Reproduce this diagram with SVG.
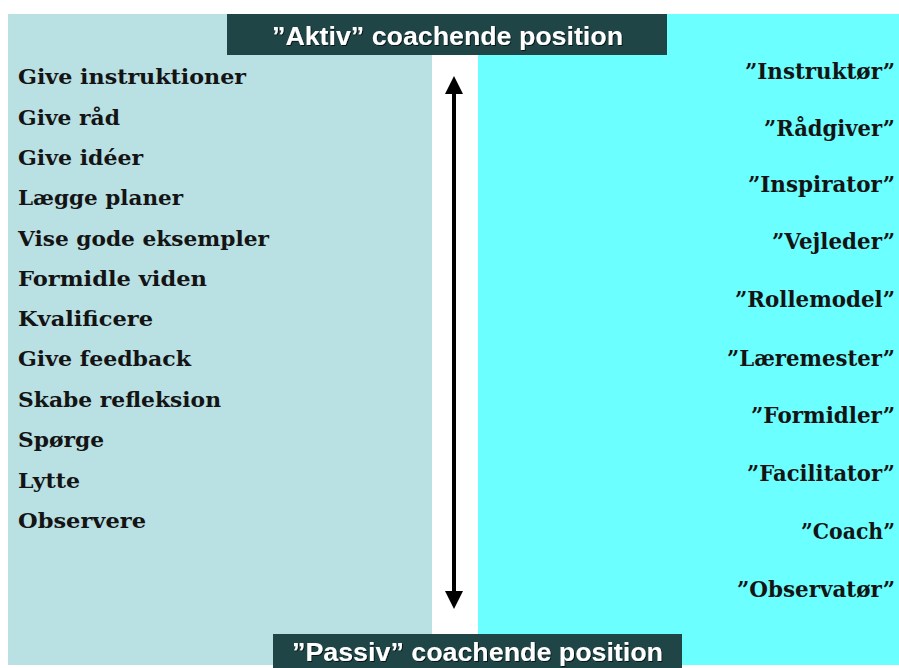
<svg xmlns="http://www.w3.org/2000/svg" width="899" height="668" viewBox="0 0 899 668">
  <defs>
    <style>
      .bg { fill: #ffffff; }
      .panel-left { fill: #b9e0e3; }
      .panel-right { fill: #6cffff; }
      .head { fill: #1f4547; }
      .head-text { font-family: "Liberation Sans", Arial, sans-serif; font-weight: bold; fill: #ffffff; text-anchor: middle; }
      .act { font-family: "DejaVu Serif", Georgia, serif; font-weight: bold; font-size: 21px; fill: #141414; }
      .role { font-family: "DejaVu Serif", Georgia, serif; font-weight: bold; font-size: 21.5px; fill: #141414; text-anchor: end; }
      .axis { stroke: #000000; stroke-width: 4; fill: none; }
    </style>
    <marker id="head" viewBox="0 0 10 10" refX="6.7" refY="5" markerWidth="4.5" markerHeight="4.5" markerUnits="strokeWidth" orient="auto-start-reverse">
      <path d="M0,0 L10,5 L0,10 Z" fill="#000000"/>
    </marker>
    <filter id="shadow" x="-5%" y="-20%" width="110%" height="140%">
      <feDropShadow dx="1" dy="1" stdDeviation="0.6" flood-color="#000000" flood-opacity="0.7"/>
    </filter>
  </defs>

  <rect class="bg" x="0" y="0" width="899" height="668"/>

  <!-- background panels -->
  <g id="panel-activities">
    <rect class="panel-left" x="8" y="14" width="424" height="651"/>
  </g>
  <g id="panel-roles">
    <rect class="panel-right" x="478" y="14" width="421" height="651"/>
  </g>

  <!-- vertical axis between the two panels -->
  <g id="connectors">
    <line class="axis" x1="454" y1="82" x2="454" y2="603" marker-start="url(#head)" marker-end="url(#head)"/>
  </g>

  <g id="header-active">
    <rect class="head" x="227" y="14" width="440" height="41"/>
    <text class="head-text" x="447.5" y="45" font-size="25" textLength="351" lengthAdjust="spacingAndGlyphs" filter="url(#shadow)">”Aktiv” coachende position</text>
  </g>

  <g id="header-passive">
    <rect class="head" x="273" y="634" width="409" height="34"/>
    <text class="head-text" x="477.5" y="661" font-size="25" textLength="371" lengthAdjust="spacingAndGlyphs" filter="url(#shadow)">”Passiv” coachende position</text>
  </g>

  <!-- coaching activities -->
  <g id="activities">
    <text class="act" x="18" y="84" textLength="228" lengthAdjust="spacingAndGlyphs">Give instruktioner</text>
    <text class="act" x="18" y="125" textLength="102" lengthAdjust="spacingAndGlyphs">Give råd</text>
    <text class="act" x="18" y="165" textLength="125" lengthAdjust="spacingAndGlyphs">Give idéer</text>
    <text class="act" x="18" y="205" textLength="165" lengthAdjust="spacingAndGlyphs">Lægge planer</text>
    <text class="act" x="18" y="246" textLength="251" lengthAdjust="spacingAndGlyphs">Vise gode eksempler</text>
    <text class="act" x="18" y="286" textLength="189" lengthAdjust="spacingAndGlyphs">Formidle viden</text>
    <text class="act" x="18" y="326" textLength="135" lengthAdjust="spacingAndGlyphs">Kvalificere</text>
    <text class="act" x="18" y="366" textLength="173" lengthAdjust="spacingAndGlyphs">Give feedback</text>
    <text class="act" x="18" y="407" textLength="203" lengthAdjust="spacingAndGlyphs">Skabe refleksion</text>
    <text class="act" x="18" y="447" textLength="86" lengthAdjust="spacingAndGlyphs">Spørge</text>
    <text class="act" x="18" y="488" textLength="62" lengthAdjust="spacingAndGlyphs">Lytte</text>
    <text class="act" x="18" y="528" textLength="128" lengthAdjust="spacingAndGlyphs">Observere</text>
  </g>

  <!-- coaching roles -->
  <g id="roles">
    <text class="role" x="895" y="79" textLength="150" lengthAdjust="spacingAndGlyphs">”Instruktør”</text>
    <text class="role" x="895" y="136" textLength="131" lengthAdjust="spacingAndGlyphs">”Rådgiver”</text>
    <text class="role" x="895" y="192" textLength="147" lengthAdjust="spacingAndGlyphs">”Inspirator”</text>
    <text class="role" x="895" y="249" textLength="123" lengthAdjust="spacingAndGlyphs">”Vejleder”</text>
    <text class="role" x="895" y="307" textLength="160" lengthAdjust="spacingAndGlyphs">”Rollemodel”</text>
    <text class="role" x="895" y="366" textLength="168" lengthAdjust="spacingAndGlyphs">”Læremester”</text>
    <text class="role" x="895" y="423" textLength="144" lengthAdjust="spacingAndGlyphs">”Formidler”</text>
    <text class="role" x="895" y="481" textLength="148" lengthAdjust="spacingAndGlyphs">”Facilitator”</text>
    <text class="role" x="895" y="539" textLength="94" lengthAdjust="spacingAndGlyphs">”Coach”</text>
    <text class="role" x="895" y="597" textLength="158" lengthAdjust="spacingAndGlyphs">”Observatør”</text>
  </g>
</svg>
